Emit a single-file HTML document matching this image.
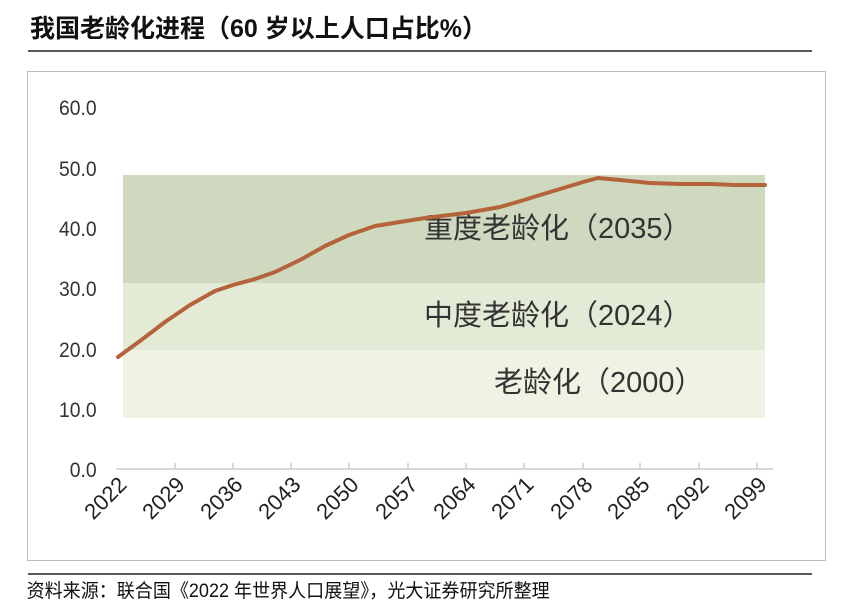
<!DOCTYPE html>
<html><head><meta charset="utf-8"><style>
body{margin:0;background:#fff;width:845px;height:610px;overflow:hidden}
</style></head><body>
<svg width="845" height="610" viewBox="0 0 845 610" xmlns="http://www.w3.org/2000/svg" style="font-family:'Liberation Sans','Noto Sans CJK SC',sans-serif">
<text x="30" y="37" font-size="25" font-weight="bold" fill="#111">我国老龄化进程（60 岁以上人口占比%）</text>
<line x1="28" y1="51" x2="812" y2="51" stroke="#222" stroke-width="1.5"/>
<rect x="27.5" y="71.5" width="798" height="489" fill="#fff" stroke="#bbb"/>
<rect x="123" y="350" width="642" height="68" fill="#eef3e4"/>
<rect x="123" y="283" width="642" height="67" fill="#e3ebd6"/>
<rect x="123" y="175" width="642" height="108" fill="#cfd9bf"/>
<g font-size="21" fill="#333" text-anchor="end" transform="scale(0.92,1)">
<text x="105" y="115">60.0</text><text x="105" y="176">50.0</text><text x="105" y="236">40.0</text>
<text x="105" y="296">30.0</text><text x="105" y="357">20.0</text><text x="105" y="417">10.0</text><text x="105" y="477">0.0</text>
</g>
<line x1="116" y1="469" x2="773" y2="469" stroke="#ccc" stroke-width="1.5"/>
<g stroke="#ccc" stroke-width="1.5">
<line x1="175" y1="463" x2="175" y2="469"/><line x1="233" y1="463" x2="233" y2="469"/><line x1="291" y1="463" x2="291" y2="469"/><line x1="349" y1="463" x2="349" y2="469"/><line x1="408" y1="463" x2="408" y2="469"/><line x1="466" y1="463" x2="466" y2="469"/><line x1="524" y1="463" x2="524" y2="469"/><line x1="583" y1="463" x2="583" y2="469"/><line x1="640" y1="463" x2="640" y2="469"/><line x1="699" y1="463" x2="699" y2="469"/><line x1="757" y1="463" x2="757" y2="469"/>
</g>
<g font-size="22" fill="#222" text-anchor="end">
<text transform="translate(128,486) rotate(-45)">2022</text>
<text transform="translate(186,486) rotate(-45)">2029</text>
<text transform="translate(244,486) rotate(-45)">2036</text>
<text transform="translate(302,486) rotate(-45)">2043</text>
<text transform="translate(360,486) rotate(-45)">2050</text>
<text transform="translate(419,486) rotate(-45)">2057</text>
<text transform="translate(477,486) rotate(-45)">2064</text>
<text transform="translate(535,486) rotate(-45)">2071</text>
<text transform="translate(594,486) rotate(-45)">2078</text>
<text transform="translate(651,486) rotate(-45)">2085</text>
<text transform="translate(710,486) rotate(-45)">2092</text>
<text transform="translate(768,486) rotate(-45)">2099</text>
</g>
<g font-size="29" fill="#333">
<text x="424" y="238">重度老龄化（2035）</text>
<text x="424" y="325">中度老龄化（2024）</text>
<text x="494" y="392">老龄化（2000）</text>
</g>
<polyline fill="none" stroke="#b5633a" stroke-width="4" stroke-linejoin="round" stroke-linecap="round"
points="118,357 140,341 165,322 190,305 215,291 233,285 255,279 275,272 300,260 325,246 349,235 375,226 400,222 425,218 466,213 500,207 524,200 550,192 570,186 583,182 598,178 620,180 650,183 680,184 710,184 735,185 765,185"/>
<line x1="28" y1="574" x2="812" y2="574" stroke="#222" stroke-width="1.5"/>
<text x="28" y="597" font-size="19" fill="#111" transform="scale(0.95,1)">资料来源：联合国《2022 年世界人口展望》，光大证券研究所整理</text>
</svg>
</body></html>
